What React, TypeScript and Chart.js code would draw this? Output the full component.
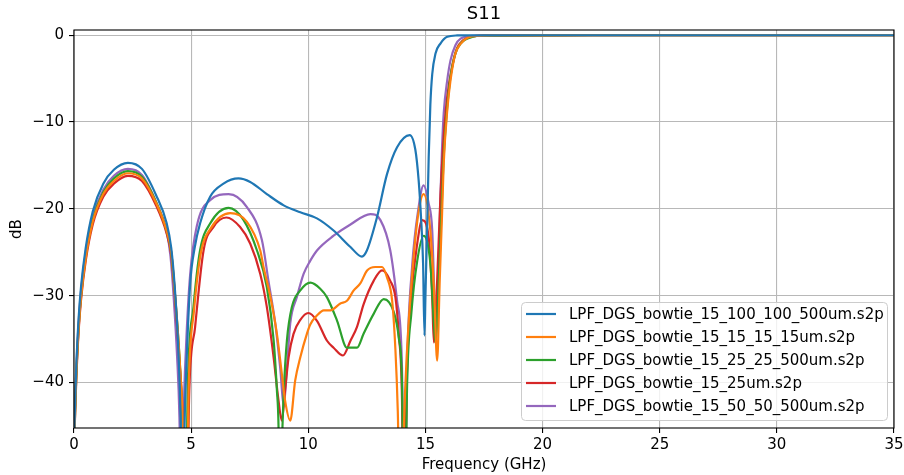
import React, { useEffect, useRef } from "react";
import { Chart, registerables } from "chart.js";

Chart.register(...registerables);

// ---------- data ----------
const chartTitle = "S11";
const xTitle = "Frequency (GHz)";
const yTitle = "dB";
const xTicks = [0, 5, 10, 15, 20, 25, 30, 35];
const yTicks = [0, -10, -20, -30, -40];

const seriesLabels = [
  "LPF_DGS_bowtie_15_100_100_500um.s2p",
  "LPF_DGS_bowtie_15_15_15_15um.s2p",
  "LPF_DGS_bowtie_15_25_25_500um.s2p",
  "LPF_DGS_bowtie_15_25um.s2p",
  "LPF_DGS_bowtie_15_50_50_500um.s2p",
];
const seriesColors = ["#1f77b4", "#ff7f0e", "#2ca02c", "#d62728", "#9467bd"];

// [frequency GHz, S11 dB]
const s100_100_500: [number, number][] = [
  [0, -47], [0.05, -42], [0.1, -38], [0.2, -32.5], [0.3, -29], [0.5, -24.5], [0.8, -20.3],
  [1.25, -17.1], [1.7, -15.5], [2.3, -14.7], [2.9, -15.4], [3.5, -18.4], [3.95, -21.6],
  [4.15, -24.5], [4.3, -29], [4.45, -36], [4.55, -44], [4.65, -60], [4.72, -45], [4.8, -38],
  [4.96, -28.6], [5.15, -24.5], [5.38, -21.7], [5.81, -18.6], [6.38, -17.1], [7.02, -16.5],
  [7.52, -16.9], [8.23, -18.3], [8.95, -19.6], [9.66, -20.4], [10.37, -21.1], [11.08, -22.5],
  [11.8, -24.4], [12.29, -25.5], [12.5, -24.8], [12.93, -21.0], [13.36, -16.0], [13.79, -12.9],
  [14.33, -11.5], [14.57, -13.2], [14.71, -16.7], [14.81, -20.9], [14.9, -26.3], [14.96, -34.6],
  [15.0, -30], [15.07, -22.5], [15.14, -14], [15.21, -8], [15.29, -4.5], [15.43, -2.1],
  [15.64, -0.96], [15.93, -0.19], [16.35, -0.03], [17, -0.01], [20, -0.005], [25, -0.005],
  [30, -0.005], [35, -0.005],
];

const s15_15_15: [number, number][] = [
  [0, -48], [0.05, -43], [0.1, -39], [0.2, -33.7], [0.3, -30.2], [0.5, -25.7], [0.8, -21.5],
  [1.25, -18.3], [1.7, -16.8], [2.3, -15.9], [2.9, -16.5], [3.5, -19.3], [3.95, -22.5],
  [4.15, -25], [4.3, -29.5], [4.5, -37], [4.65, -45], [4.77, -60], [4.9, -40], [5.12, -31.8],
  [5.4, -25.3], [5.85, -22.2], [6.67, -20.5], [7.38, -21.5], [7.95, -24.8], [8.09, -26.7],
  [8.38, -30.1], [8.66, -34.4], [8.87, -39.0], [9.01, -42.1], [9.23, -44.4], [9.44, -39.8],
  [9.66, -37.1], [9.94, -34.4], [10.09, -33.3], [10.37, -32.3], [10.66, -31.7], [10.94, -31.7],
  [11.37, -30.9], [11.65, -30.6], [11.94, -29.4], [12.22, -28.6], [12.51, -27.1], [12.86, -26.7],
  [13.15, -26.7], [13.36, -27.9], [13.58, -30.6], [13.72, -36.3], [13.82, -43.3], [13.95, -60],
  [14.08, -45], [14.2, -37], [14.45, -27], [14.7, -20.5], [14.92, -18.3], [15.21, -22.5],
  [15.38, -30.1], [15.5, -37.5], [15.61, -28.3], [15.71, -20.6], [15.78, -14.8], [15.93, -8.7],
  [16.07, -5.2], [16.28, -2.1], [16.5, -1.0], [16.8, -0.3], [17.3, -0.07], [18, -0.02],
  [20, -0.01], [25, -0.005], [30, -0.005], [35, -0.005],
];

const s25_25_500: [number, number][] = [
  [0, -48], [0.05, -43], [0.1, -39], [0.2, -33.5], [0.3, -30], [0.5, -25.5], [0.8, -21.3],
  [1.25, -18.1], [1.7, -16.5], [2.3, -15.65], [2.9, -16.3], [3.5, -19.2], [3.95, -22.5],
  [4.15, -25], [4.3, -29.5], [4.5, -37], [4.63, -45], [4.74, -60], [4.86, -40], [5.1, -31.3],
  [5.38, -24.8], [5.81, -21.7], [6.6, -19.9], [7.24, -21.3], [7.81, -24.8], [8.23, -29],
  [8.52, -35.1], [8.66, -40.9], [8.73, -45.1], [8.8, -60], [8.88, -47], [8.95, -41.3],
  [9.09, -35.1], [9.3, -31.3], [9.66, -29.4], [10.09, -28.5], [10.51, -29.2], [10.8, -30.2],
  [11.23, -32.9], [11.65, -36.0], [12.08, -36.0], [12.36, -34.4], [12.79, -32.1], [13.22, -30.4],
  [13.65, -31.9], [13.86, -34.8], [14.0, -40.2], [14.1, -60], [14.22, -40], [14.4, -32],
  [14.65, -26], [14.92, -23.1], [15.21, -26.3], [15.38, -34.0], [15.43, -35.4], [15.57, -28.3],
  [15.71, -18.6], [15.78, -14.0], [15.93, -8.3], [16.07, -4.8], [16.28, -2.1], [16.5, -0.96],
  [17, -0.2], [17.5, -0.06], [20, -0.01], [25, -0.005], [30, -0.005], [35, -0.005],
];

const s25um: [number, number][] = [
  [0, -48], [0.05, -43.5], [0.1, -39.5], [0.2, -34], [0.3, -30.5], [0.5, -26], [0.8, -21.8],
  [1.25, -18.6], [1.7, -17.1], [2.3, -16.2], [2.9, -16.8], [3.5, -19.6], [3.95, -22.8],
  [4.15, -25.3], [4.3, -29.8], [4.5, -37.5], [4.66, -45], [4.78, -60], [4.92, -41], [5.17, -33.6],
  [5.53, -24.8], [5.95, -22.1], [6.5, -21.0], [7.09, -22.1], [7.52, -24.0], [7.95, -27.5],
  [8.23, -31.3], [8.52, -37.1], [8.73, -42.1], [8.87, -44.4], [9.01, -40.9], [9.16, -37.1],
  [9.37, -34.4], [9.66, -32.8], [10.0, -32.0], [10.37, -32.9], [10.8, -35.2], [11.08, -36.0],
  [11.48, -36.9], [11.8, -35.2], [12.08, -33.6], [12.36, -31.0], [12.79, -28.3], [13.15, -27.1],
  [13.5, -28.3], [13.72, -30.2], [13.86, -34.4], [14.0, -42], [14.08, -60], [14.2, -40],
  [14.4, -30], [14.65, -24], [14.86, -21.3], [15.14, -23.3], [15.29, -30.2], [15.36, -35.4],
  [15.5, -28.3], [15.64, -18.6], [15.78, -11.7], [15.93, -7.1], [16.14, -3.6], [16.35, -1.5],
  [16.6, -0.6], [17, -0.15], [17.5, -0.05], [20, -0.01], [25, -0.005], [30, -0.005], [35, -0.005],
];

const s50_50_500: [number, number][] = [
  [0, -47], [0.05, -42.5], [0.1, -38.5], [0.2, -33], [0.3, -29.5], [0.5, -25], [0.8, -20.9],
  [1.25, -17.8], [1.7, -16.2], [2.3, -15.4], [2.9, -16.1], [3.5, -19.2], [3.95, -22.6],
  [4.12, -25.5], [4.25, -30], [4.4, -37], [4.5, -44], [4.6, -60], [4.68, -44], [4.78, -36],
  [4.96, -27.5], [5.24, -22], [5.81, -19.0], [6.6, -18.3], [7.38, -19.8], [8.02, -23.6],
  [8.3, -28.3], [8.59, -33.2], [8.8, -38.3], [8.95, -42.5], [9.09, -38.3], [9.23, -33.2],
  [9.52, -30.1], [9.8, -27.5], [10.08, -26.0], [10.37, -24.8], [11.08, -23.1], [11.8, -21.8],
  [12.65, -20.6], [13.08, -21.3], [13.5, -24.8], [13.79, -30.6], [14.0, -38.3], [14.1, -60],
  [14.22, -38.3], [14.43, -26.7], [14.71, -19.8], [14.92, -17.3], [15.14, -19.4], [15.29, -22.5],
  [15.38, -30.1], [15.43, -35.0], [15.57, -26.3], [15.64, -18.6], [15.71, -12.9], [15.78, -9.0],
  [15.93, -5.2], [16.07, -2.9], [16.28, -1.15], [16.5, -0.4], [17, -0.08], [17.5, -0.03],
  [20, -0.01], [25, -0.005], [30, -0.005], [35, -0.005],
];

const seriesData = [s100_100_500, s15_15_15, s25_25_500, s25um, s50_50_500];

// ---------- styling ----------
const FONT = '"DejaVu Sans", sans-serif';

const titlePlugin = {
  id: "axesTitle",
  afterDraw(chart: any) {
    const { ctx, chartArea: a } = chart;
    ctx.save();
    ctx.font = `18px ${FONT}`;
    ctx.fillStyle = "#000";
    ctx.textAlign = "center";
    ctx.textBaseline = "middle";
    ctx.fillText(chartTitle, (a.left + a.right) / 2, 14);
    ctx.restore();
  },
};

const framePlugin = {
  id: "frame",
  afterDatasetsDraw(chart: any) {
    const { ctx, chartArea: a } = chart;
    ctx.save();
    ctx.strokeStyle = "#000";
    ctx.lineWidth = 1.1;
    ctx.strokeRect(a.left, a.top, a.right - a.left, a.bottom - a.top);
    ctx.restore();
  },
};

const boxLegendPlugin = {
  id: "boxLegend",
  afterDraw(chart: any) {
    const { ctx, chartArea: a } = chart;
    const w = 366;
    const h = 118;
    const x0 = a.right - 7 - w;
    const y0 = a.bottom - 8 - h;
    ctx.save();
    ctx.beginPath();
    (ctx as any).roundRect(x0 + 0.5, y0 + 0.5, w, h, 4);
    ctx.fillStyle = "rgba(255,255,255,0.8)";
    ctx.fill();
    ctx.strokeStyle = "#cccccc";
    ctx.lineWidth = 1;
    ctx.stroke();
    ctx.font = `15px ${FONT}`;
    ctx.textBaseline = "middle";
    ctx.textAlign = "left";
    chart.data.datasets.forEach((ds: any, i: number) => {
      const y = y0 + 12 + i * 23;
      ctx.beginPath();
      ctx.strokeStyle = ds.borderColor;
      ctx.lineWidth = 2.2;
      ctx.moveTo(x0 + 5, y);
      ctx.lineTo(x0 + 35, y);
      ctx.stroke();
      ctx.fillStyle = "#000";
      ctx.fillText(ds.label, x0 + 48, y + 1);
    });
    ctx.restore();
  },
};

const minus = (v: number) => (v < 0 ? "\u2212" + Math.abs(v) : String(v));

export default function App() {
  const canvasRef = useRef<HTMLCanvasElement | null>(null);

  useEffect(() => {
    if (!canvasRef.current) return;
    const datasets = seriesData.map((pts, i) => ({
      label: seriesLabels[i],
      data: pts.map(([f, db]) => ({ x: f, y: db })),
      borderColor: seriesColors[i],
      backgroundColor: seriesColors[i],
      borderWidth: 2.2,
      pointRadius: 0,
      fill: false,
      cubicInterpolationMode: "monotone" as const,
      clip: 0,
    }));

    const gridStyle = {
      color: "#b8b8b8",
      lineWidth: 1.1,
      drawTicks: true,
      tickLength: 5,
      tickColor: "#000",
      tickWidth: 1.1,
    };

    const chart = new Chart(canvasRef.current, {
      type: "line",
      data: { datasets },
      options: {
        animation: false,
        responsive: false,
        devicePixelRatio: 1,
        layout: { padding: { left: 0, right: 10, top: 30, bottom: 0 } },
        plugins: {
          legend: { display: false },
          tooltip: { enabled: false },
          title: { display: false },
        },
        scales: {
          x: {
            type: "linear",
            min: 0,
            max: 35,
            afterBuildTicks: (s: any) => {
              s.ticks = xTicks.map((v) => ({ value: v }));
            },
            afterFit: (s: any) => {
              s.height = 47;
              s.paddingLeft = 0;
              s.paddingRight = 0;
            },
            ticks: {
              color: "#000",
              font: { family: FONT, size: 15 },
              padding: 3,
              maxRotation: 0,
              callback: (v: any) => minus(Number(v)),
            },
            grid: gridStyle,
            border: { display: false },
            title: {
              display: true,
              text: xTitle,
              color: "#000",
              font: { family: FONT, size: 15 },
              padding: { top: 0, bottom: 0.5 },
            },
          },
          y: {
            type: "linear",
            min: -45.25,
            max: 0.6,
            afterBuildTicks: (s: any) => {
              s.ticks = yTicks.map((v) => ({ value: v }));
            },
            afterFit: (s: any) => {
              s.width = 74;
              s.paddingTop = 0;
              s.paddingBottom = 0;
            },
            ticks: {
              color: "#000",
              font: { family: FONT, size: 15 },
              padding: 5,
              callback: (v: any) => minus(Number(v)),
            },
            grid: gridStyle,
            border: { display: false },
            title: {
              display: true,
              text: yTitle,
              color: "#000",
              font: { family: FONT, size: 15 },
              padding: { top: 7.7, bottom: 0 },
            },
          },
        },
      },
      plugins: [framePlugin, boxLegendPlugin, titlePlugin],
    } as any);
    return () => chart.destroy();
  }, []);

  return (
    <div style={{ position: "fixed", left: 0, top: 0, width: 904, height: 475, background: "#fff" }}>
      <canvas ref={canvasRef} width={904} height={475} style={{ width: 904, height: 475, display: "block" }} />
    </div>
  );
}
